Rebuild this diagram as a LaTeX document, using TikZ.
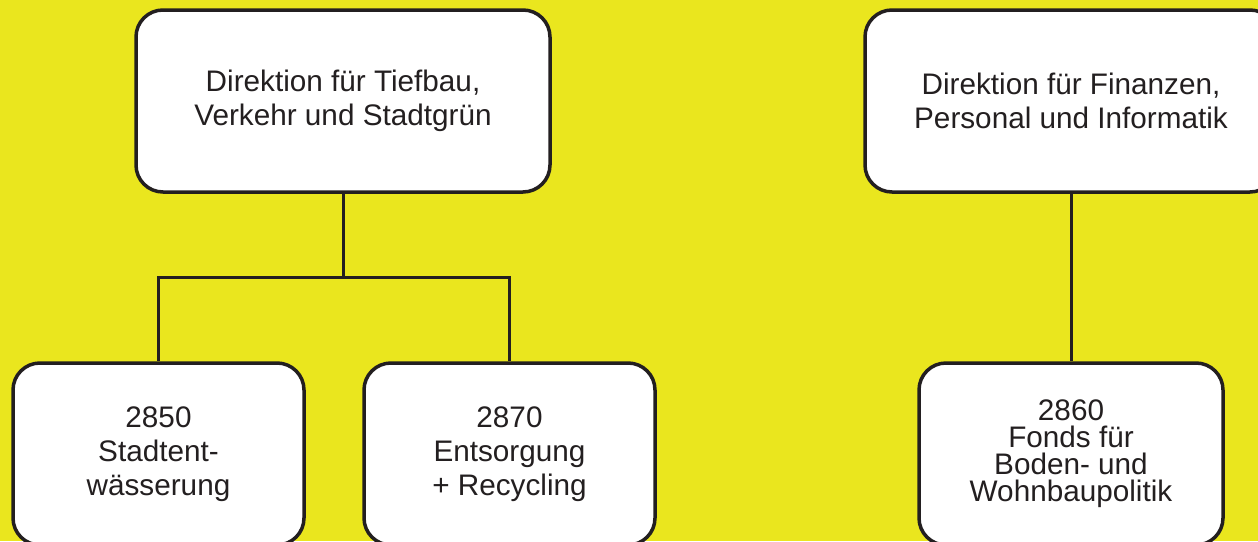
\documentclass[tikz,border=0pt]{standalone}
\usepackage{fontspec}
\setmainfont{Liberation Sans}
\definecolor{bgyellow}{RGB}{234,230,30}
\definecolor{ink}{RGB}{35,31,32}

\begin{document}
\begin{tikzpicture}[x=1pt,y=-1pt,
  box/.style={draw=ink,fill=white,line width=3.5pt,rounded corners=27pt,
    minimum width=#1,minimum height=182pt,inner sep=0pt,align=center,
    text=ink,font=\fontsize{29.7}{34}\selectfont},
  link/.style={draw=ink,line width=3pt}]
\useasboundingbox (0,0) rectangle (1258,541);
\fill[bgyellow] (0,0) rectangle (1258,541);
\clip (0,0) rectangle (1258,541);
% top level
\node[box=414pt] (tiefbau) at (343,101) {Direktion für Tiefbau,\\Verkehr und Stadtgrün};
\node[box=412pt] (finanzen) at (1071,101) {Direktion für Finanzen,\\Personal und Informatik};
% units
\node[box=291pt] (entw) at (158.5,454) {2850\\Stadtent-\\wässerung};
\node[box=291pt] (entsorg) at (509.5,454) {2870\\Entsorgung\\+ Recycling};
\node[box=304pt,font=\fontsize{29.7}{27}\selectfont] (fonds) at (1071,454)
  {2860\\Fonds für\\Boden- und\\Wohnbaupolitik};
% lines
\coordinate (split) at (343,277);
\draw[link] (tiefbau.south) -- (split);
\draw[link] (split) -| (entw.north);
\draw[link] (split) -| (entsorg.north);
\draw[link] (finanzen.south) -- (fonds.north);
\end{tikzpicture}
\end{document}
